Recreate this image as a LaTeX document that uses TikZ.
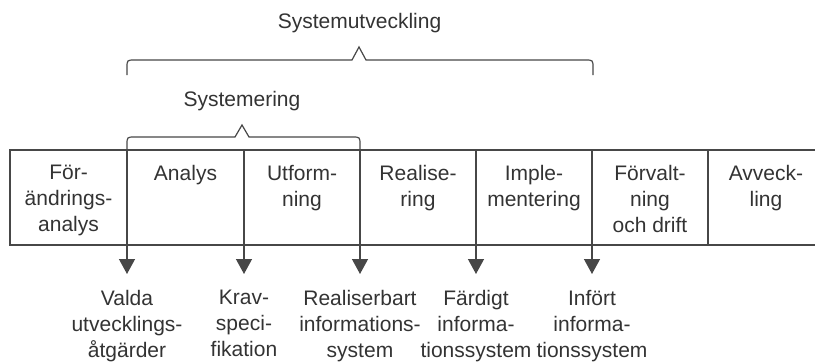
\documentclass[tikz,border=0pt]{standalone}
\usepackage{fontspec}
\setmainfont{Liberation Sans}
\usetikzlibrary{arrows.meta}
\definecolor{ink}{HTML}{333333}
\definecolor{rule}{HTML}{474747}
\begin{document}
\begin{tikzpicture}[x=1pt,y=-1pt,
  txt/.style={inner sep=0pt, text=ink, font=\fontsize{21}{26}\selectfont},
  phase/.style={txt, anchor=north, align=center},
  title/.style={txt, anchor=base},
  frame/.style={draw=rule, line width=1.3pt},
  brace/.style={draw=rule, line width=1.2pt},
  flow/.style={draw=rule, line width=1.3pt,
    -{Triangle[width=16pt,length=15pt]}, shorten >=16pt}]
\useasboundingbox (0,0) rectangle (815,362);

% phase strip
\begin{scope}
  \clip (0,0) rectangle (815,362);
  \draw[frame] (10,150) rectangle (830,245);
\end{scope}
\draw[frame] (708,150) -- (708,245);

% phase names
\node[phase] (p1) at (68.5,165) {För-\\ändrings-\\analys};
\node[phase] (p2) at (185.5,165) {Analys};
\node[phase] (p3) at (302,165) {Utform-\\ning};
\node[phase] (p4) at (418,165) {Realise-\\ring};
\node[phase] (p5) at (534,165) {Imple-\\mentering};
\node[phase] (p6) at (650,165) {Förvalt-\\ning\\och drift};
\node[phase] (p7) at (766,165) {Avveck-\\ling};

% braces with their titles
\node[title] (tsu) at (359.5,28) {Systemutveckling};
\node[title] (tsm) at (242,106) {Systemering};
\draw[brace] (127,75) -- (127,68) .. controls (127,60) .. (135,60)
  -- (352,60) -- (359,47) -- (366,60) -- (585,60)
  .. controls (593,60) .. (593,68) -- (593,75);
\draw[brace] (127,150) -- (127,145) .. controls (127,137) .. (135,137)
  -- (235,137) -- (242,125) -- (249,137) -- (352,137)
  .. controls (360,137) .. (360,145) -- (360,150);

% milestone starts on the strip
\coordinate (m1) at (127,150);
\coordinate (m2) at (244,150);
\coordinate (m3) at (360,150);
\coordinate (m4) at (476,150);
\coordinate (m5) at (592,150);

% results
\node[phase] (r1) at (127,290) {Valda\\utvecklings-\\åtgärder};
\node[phase] (r2) at (244,290) {Krav-\\speci-\\fikation};
\node[phase] (r3) at (360,290) {Realiserbart\\informations-\\system};
\node[phase] (r4) at (476,290) {Färdigt\\informa-\\tionssystem};
\node[phase] (r5) at (592,290) {Infört\\informa-\\tionssystem};

\draw[flow] (m1) -- (r1.north);
\draw[flow] (m2) -- (r2.north);
\draw[flow] (m3) -- (r3.north);
\draw[flow] (m4) -- (r4.north);
\draw[flow] (m5) -- (r5.north);
\end{tikzpicture}
\end{document}
